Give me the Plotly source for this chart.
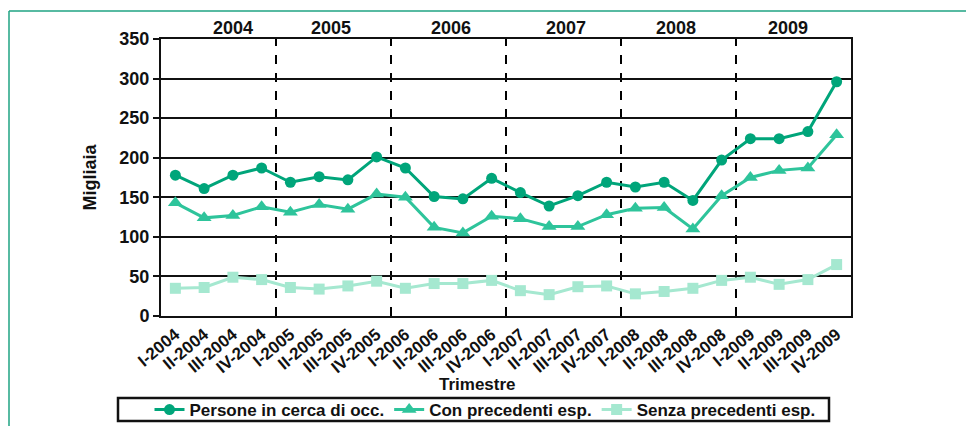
import plotly.graph_objects as go

categories = ["I-2004", "II-2004", "III-2004", "IV-2004",
              "I-2005", "II-2005", "III-2005", "IV-2005",
              "I-2006", "II-2006", "III-2006", "IV-2006",
              "I-2007", "II-2007", "III-2007", "IV-2007",
              "I-2008", "II-2008", "III-2008", "IV-2008",
              "I-2009", "II-2009", "III-2009", "IV-2009"]

persone = [178, 161, 178, 187, 169, 176, 172, 201, 187, 151, 148, 174,
           156, 139, 152, 169, 163, 169, 146, 197, 224, 224, 233, 296]
con_prec = [143, 124, 127, 138, 131, 141, 135, 154, 150, 112, 105, 126,
            123, 113, 113, 128, 136, 137, 110, 152, 175, 184, 187, 229]
senza_prec = [35, 36, 49, 46, 36, 34, 38, 44, 35, 41, 41, 45,
              32, 27, 37, 38, 28, 31, 35, 45, 49, 40, 46, 65]

years = ["2004", "2005", "2006", "2007", "2008", "2009"]
year_pos = [2.02, 5.4, 9.6, 13.6, 17.4, 21.3]

FONT = "Liberation Sans"
c1, c2, c3 = "#00A57A", "#2EC49B", "#A5E8D0"

fig = go.Figure()
fig.add_trace(go.Scatter(x=categories, y=persone, name="Persone in cerca di occ.",
                         mode="lines+markers", line=dict(color=c1, width=3),
                         marker=dict(symbol="circle", size=11, color=c1)))
fig.add_trace(go.Scatter(x=categories, y=con_prec, name="Con precedenti esp.",
                         mode="lines+markers", line=dict(color=c2, width=3),
                         marker=dict(symbol="triangle-up", size=13, color=c2)))
fig.add_trace(go.Scatter(x=categories, y=senza_prec, name="Senza precedenti esp.",
                         mode="lines+markers", line=dict(color=c3, width=3),
                         marker=dict(symbol="square", size=11, color=c3)))

L, R, T, B = 161, 115, 39, 110
PW, PH = 966 - L - R, 426 - T - B


def px(xp):
    return (xp - L) / PW


def py(yp):
    return (426 - B - yp) / PH


shapes = []
for b in [3.5, 7.5, 11.5, 15.5, 19.5]:
    shapes.append(dict(type="line", xref="x", yref="paper", x0=b, x1=b, y0=0, y1=1,
                       line=dict(color="black", width=2, dash="dash"), layer="below"))
# outer teal frame
shapes.append(dict(type="line", xref="paper", yref="paper", x0=px(9), x1=px(970),
                   y0=py(11), y1=py(11), line=dict(color="#1FA383", width=1.5)))
shapes.append(dict(type="line", xref="paper", yref="paper", x0=px(9), x1=px(9),
                   y0=py(11), y1=py(430), line=dict(color="#1FA383", width=1.5)))
# legend frame
shapes.append(dict(type="rect", xref="paper", yref="paper", x0=px(118), x1=px(829),
                   y0=py(421), y1=py(398), line=dict(color="#111", width=2.5)))

annotations = []
for yr, p in zip(years, year_pos):
    annotations.append(dict(x=p, y=py(27.5), xref="x", yref="paper", text=yr,
                            showarrow=False, yanchor="middle",
                            font=dict(family=FONT, size=18, color="#111", weight="bold")))
annotations.append(dict(x=px(477), y=py(384), xref="paper", yref="paper",
                        text="Trimestre", showarrow=False, yanchor="middle",
                        font=dict(family=FONT, size=17, color="#111", weight="bold")))

fig.update_layout(
    width=966, height=426,
    margin=dict(l=L, r=R, t=T, b=B, autoexpand=False),
    paper_bgcolor="white", plot_bgcolor="white",
    showlegend=True,
    legend=dict(orientation="h", x=px(485), xanchor="center",
                y=py(410), yanchor="middle",
                borderwidth=0, bgcolor="rgba(0,0,0,0)",
                font=dict(family=FONT, size=17, color="#111", weight="bold"),
                tracegroupgap=0),
    xaxis=dict(type="category", tickangle=-40, showgrid=False,
               showline=True, linecolor="#111", linewidth=2, mirror=True,
               ticks="", range=[-0.5, 23.5], automargin=False,
               tickfont=dict(family=FONT, size=17, color="#111", weight="bold")),
    yaxis=dict(range=[0, 350], dtick=50, showgrid=True, gridcolor="#111", gridwidth=2,
               showline=True, linecolor="#111", linewidth=2, mirror=True,
               ticks="outside", ticklen=6, tickcolor="#111", tickwidth=2,
               zeroline=False, automargin=False,
               title=dict(text="Migliaia", standoff=18,
                          font=dict(family=FONT, size=18, color="#111", weight="bold")),
               tickfont=dict(family=FONT, size=18, color="#111", weight="bold")),
    shapes=shapes,
    annotations=annotations,
)

fig.write_html("out.html", config={"displayModeBar": False},
               post_script="document.body.style.margin='0';")
